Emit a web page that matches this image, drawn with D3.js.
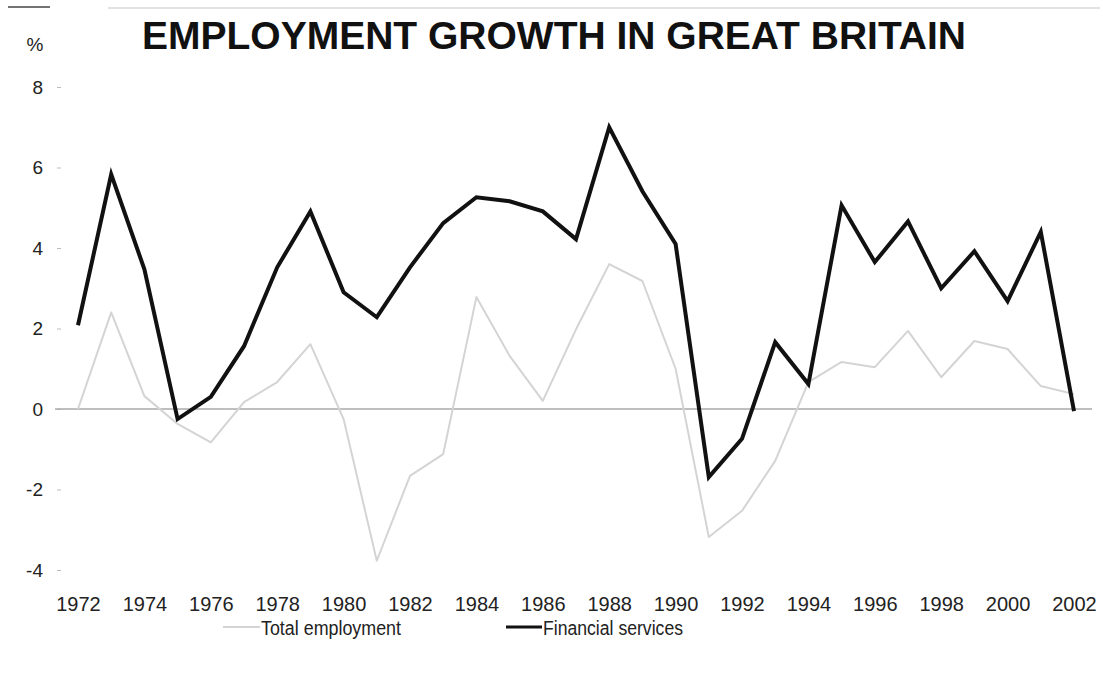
<!DOCTYPE html>
<html>
<head>
<meta charset="utf-8">
<script src="https://cdn.jsdelivr.net/npm/d3@7"></script>
<style>
  body { margin: 0; background: #fff; }
  svg { font-family: "Liberation Sans", Arial, sans-serif; }
</style>
</head>
<body>
<div class="chart"></div>
<script>
const years = d3.range(1972, 2003);
const financialServices = [2.08, 5.83, 3.47, -0.25, 0.3, 1.56, 3.52, 4.91, 2.9, 2.28,
  3.52, 4.62, 5.26, 5.16, 4.91, 4.22, 7.0, 5.41, 4.1, -1.69,
  -0.74, 1.66, 0.62, 5.06, 3.65, 4.66, 3.0, 3.92, 2.68, 4.4, -0.05];
const totalEmployment = [0.0, 2.4, 0.32, -0.37, -0.83, 0.17, 0.67, 1.61, -0.25, -3.77,
  -1.66, -1.12, 2.78, 1.32, 0.2, 1.98, 3.6, 3.18, 1.0, -3.18,
  -2.53, -1.29, 0.67, 1.17, 1.04, 1.94, 0.79, 1.69, 1.49, 0.57, 0.37];
const yTicks = [-4, -2, 0, 2, 4, 6, 8];
const xTicks = d3.range(1972, 2003, 2);

const width = 1103, height = 688;

const svg = d3.select('.chart').append('svg')
    .attr('width', width)
    .attr('height', height)

const x = d3.scaleLinear().domain([1972, 2002]).range([78, 1074]);
const y = d3.scaleLinear().domain([-4, 8]).range([570, 87]);

// faint top rule from the scan
svg.append('line').attr('x1', 108).attr('x2', 1100).attr('y1', 8).attr('y2', 8)
    .attr('stroke', '#d8d8d8').attr('stroke-width', 1.5);
svg.append('line').attr('x1', 8).attr('x2', 50).attr('y1', 7).attr('y2', 7)
    .attr('stroke', '#444').attr('stroke-width', 1.5);

svg.append('text')
    .attr('x', 554)
    .attr('y', 49)
    .attr('text-anchor', 'middle')
    .attr('font-size', 39)
    .attr('font-weight', 'bold')
    .attr('fill', '#111')
    .text('EMPLOYMENT GROWTH IN GREAT BRITAIN');

svg.append('text')
    .attr('x', 35)
    .attr('y', 51)
    .attr('text-anchor', 'middle')
    .attr('font-size', 19)
    .attr('fill', '#222')
    .text('%');

// y axis
const yAxis = svg.append('g')
    .attr('transform', 'translate(61,0)')
    .call(d3.axisLeft(y).tickValues(yTicks).tickSize(4).tickPadding(14).tickFormat(d => String(d)));
yAxis.select('.domain').remove();
yAxis.selectAll('line').attr('stroke', '#bbb');
yAxis.selectAll('text').attr('font-size', 19).attr('fill', '#222')
    .attr('font-family', '"Liberation Sans", Arial, sans-serif');

// x axis labels
const xAxis = svg.append('g')
    .attr('transform', 'translate(0,570)')
    .call(d3.axisBottom(x).tickValues(xTicks).tickSize(0).tickPadding(27).tickFormat(d => String(d)));
xAxis.select('.domain').remove();
xAxis.selectAll('text').attr('font-size', 20).attr('fill', '#222')
    .attr('font-family', '"Liberation Sans", Arial, sans-serif');

// zero line
svg.append('line')
    .attr('x1', 55).attr('x2', 1092)
    .attr('y1', y(0)).attr('y2', y(0))
    .attr('stroke', '#aaa')
    .attr('stroke-width', 1.5);

const line = d3.line()
    .x((d, i) => x(years[i]))
    .y(d => y(d));

svg.append('path')
    .datum(totalEmployment)
    .attr('fill', 'none')
    .attr('stroke', '#d4d4d4')
    .attr('stroke-width', 2)
    .attr('stroke-linejoin', 'round')
    .attr('d', line);

svg.append('path')
    .datum(financialServices)
    .attr('fill', 'none')
    .attr('stroke', '#111')
    .attr('stroke-width', 4)
    .attr('stroke-linejoin', 'miter')
    .attr('d', line);

// legend
const legend = [
    {name: 'Total employment', color: '#d4d4d4', w: 2, x1: 223, x2: 260, tw: 140},
    {name: 'Financial services', color: '#111', w: 3, x1: 506, x2: 542, tw: 140}
];
const lg = svg.selectAll('.legend')
    .data(legend)
    .enter()
    .append('g')
    .attr('class', 'legend');
lg.append('line')
    .attr('x1', d => d.x1).attr('x2', d => d.x2)
    .attr('y1', 627).attr('y2', 627)
    .attr('stroke', d => d.color)
    .attr('stroke-width', d => d.w);
lg.append('text')
    .attr('x', d => d.x2 + 1)
    .attr('y', 635)
    .attr('font-size', 20)
    .attr('textLength', d => d.tw)
    .attr('lengthAdjust', 'spacingAndGlyphs')
    .attr('fill', '#222')
    .text(d => d.name);
</script>
</body>
</html>
